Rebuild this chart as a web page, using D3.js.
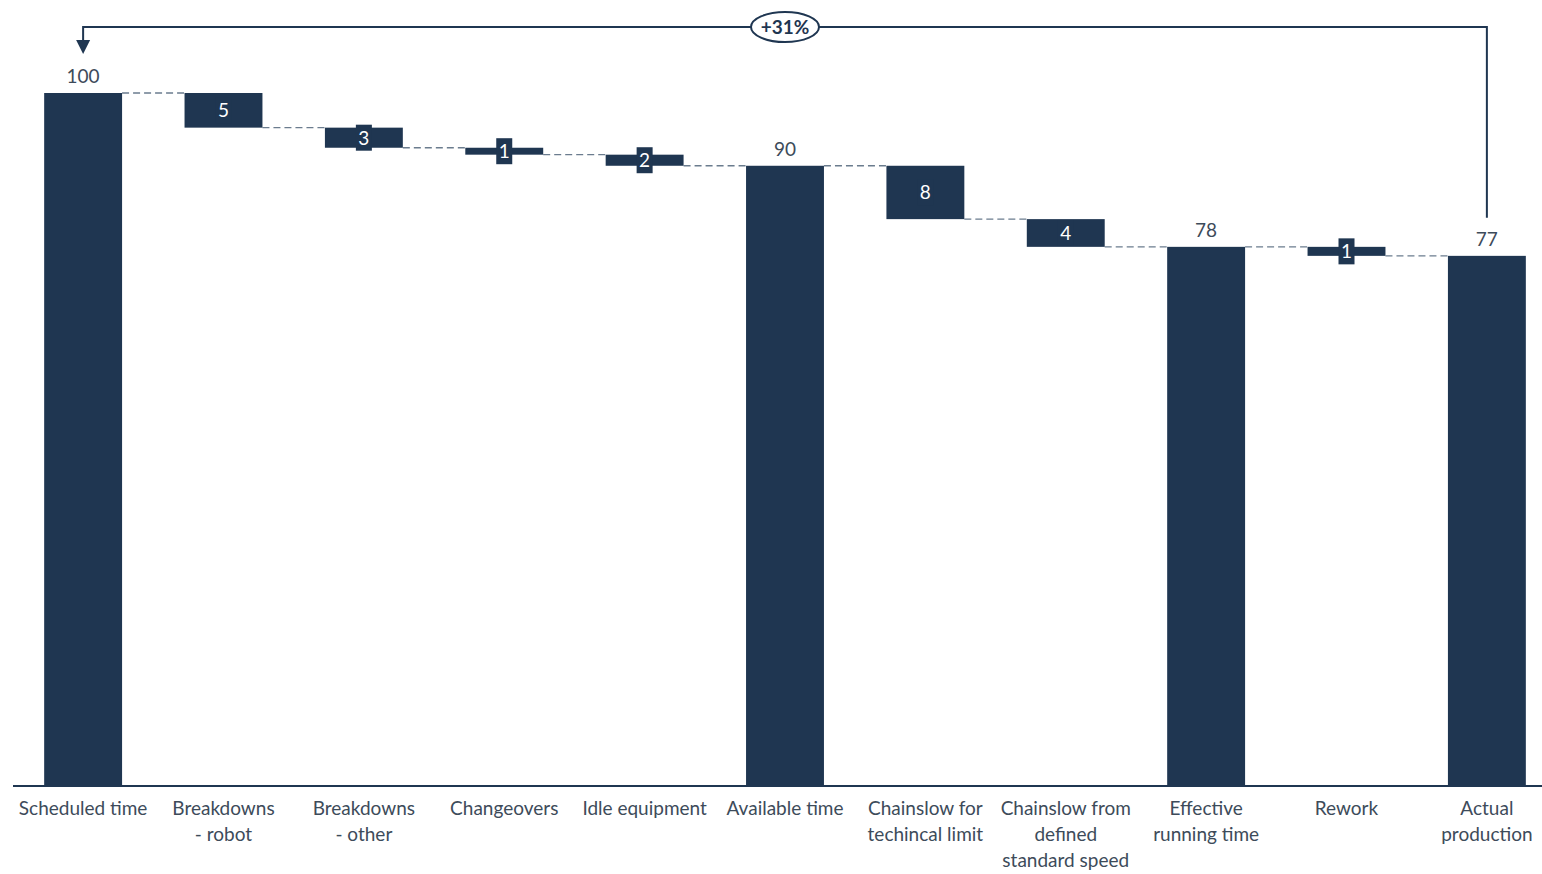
<!DOCTYPE html>
<html>
<head>
<meta charset="utf-8">
<script src="https://cdn.jsdelivr.net/npm/d3@7"></script>
<style>
  body { margin: 0; background: #fff; }
  text { font-family: Lato, "Open Sans", sans-serif; }
</style>
</head>
<body>
<div id="chart"></div>
<script>
const categories = ['Scheduled time', 'Breakdowns - robot', 'Breakdowns - other', 'Changeovers', 'Idle equipment',
    'Available time', 'Chainslow for techincal limit', 'Chainslow from defined standard speed',
    'Effective running time', 'Rework', 'Actual production'];
const labelLines = [
    ['Scheduled time'], ['Breakdowns', '- robot'], ['Breakdowns', '- other'], ['Changeovers'], ['Idle equipment'],
    ['Available time'], ['Chainslow for', 'techincal limit'], ['Chainslow from', 'defined', 'standard speed'],
    ['Effective', 'running time'], ['Rework'], ['Actual', 'production']
];
const values = [100, 5.0, 2.9, 1.0, 1.6, 89.5, 7.7, 4.0, 77.8, 1.3, 76.5];
const kinds = ['total', 'delta', 'delta', 'delta', 'delta', 'total', 'delta', 'delta', 'total', 'delta', 'total'];

const W = 1542, H = 874;
const barColor = '#1f3651';
const textColor = '#3d4b5a';

const svg = d3.select('#chart').append('svg')
    .attr('width', W)
    .attr('height', H);

const x = d3.scaleBand()
    .domain(categories)
    .range([13, 1557])
    .paddingInner(0.445)
    .paddingOuter(0.222);

const y = d3.scaleLinear()
    .domain([0, 100])
    .range([786, 93]);

// running totals -> start / end of each bar
let running = 0;
const bars = categories.map((c, i) => {
    let y0, y1;
    if (kinds[i] === 'total') {
        y0 = 0; y1 = values[i];
        running = values[i];
    } else {
        y1 = running; y0 = running - values[i];
        running = y0;
    }
    return { cat: c, i, y0, y1, kind: kinds[i], value: values[i], level: running };
});

// connectors
svg.append('g').selectAll('line')
    .data(bars.slice(0, -1))
    .join('line')
    .attr('x1', d => x(d.cat) + x.bandwidth())
    .attr('x2', d => x(categories[d.i + 1]))
    .attr('y1', d => y(d.level))
    .attr('y2', d => y(d.level))
    .attr('stroke', '#6b7c8e')
    .attr('stroke-width', 1.3)
    .attr('stroke-dasharray', '7,4');

svg.append('g').selectAll('rect')
    .data(bars)
    .join('rect')
    .attr('x', d => x(d.cat))
    .attr('width', x.bandwidth())
    .attr('y', d => y(d.y1))
    .attr('height', d => y(d.y0) - y(d.y1))
    .attr('fill', barColor);

// labels on delta bars (small dark box behind the number)
const deltas = bars.filter(d => d.kind === 'delta');
const dl = svg.append('g').selectAll('g')
    .data(deltas)
    .join('g')
    .attr('transform', d => `translate(${x(d.cat) + x.bandwidth() / 2},${(y(d.y0) + y(d.y1)) / 2})`);
dl.append('rect')
    .attr('x', -8).attr('y', -13)
    .attr('width', 16).attr('height', 26)
    .attr('fill', barColor);
dl.append('text')
    .attr('text-anchor', 'middle')
    .attr('dy', '0.36em')
    .attr('fill', '#fff')
    .attr('font-size', 19)
    .text(d => Math.round(d.value));

// labels above totals
svg.append('g').selectAll('text')
    .data(bars.filter(d => d.kind === 'total'))
    .join('text')
    .attr('x', d => x(d.cat) + x.bandwidth() / 2)
    .attr('y', d => y(d.y1) - 10)
    .attr('text-anchor', 'middle')
    .attr('fill', textColor)
    .attr('font-size', 19)
    .text(d => Math.round(d.value));

// baseline
svg.append('line')
    .attr('x1', 13).attr('x2', W)
    .attr('y1', y(0)).attr('y2', y(0))
    .attr('stroke', barColor)
    .attr('stroke-width', 2);

// category labels
const cl = svg.append('g').selectAll('text')
    .data(categories)
    .join('text')
    .attr('x', d => x(d) + x.bandwidth() / 2)
    .attr('y', 815)
    .attr('text-anchor', 'middle')
    .attr('fill', textColor)
    .attr('font-size', 19);
cl.each(function(d, i) {
    d3.select(this).selectAll('tspan')
        .data(labelLines[i])
        .join('tspan')
        .attr('x', x(d) + x.bandwidth() / 2)
        .attr('dy', (t, j) => j === 0 ? 0 : 26)
        .text(t => t);
});

// bracket from last bar back to first with % change
const first = bars[0], last = bars[bars.length - 1];
const xf = x(first.cat) + x.bandwidth() / 2;
const xl = x(last.cat) + x.bandwidth() / 2;
const topY = 27;
svg.append('path')
    .attr('d', `M${xl},${y(last.y1) - 38} V${topY} H${xf} V${y(first.y1) - 52}`)
    .attr('fill', 'none')
    .attr('stroke', barColor)
    .attr('stroke-width', 2);
svg.append('path')
    .attr('d', `M${xf - 7},${y(first.y1) - 53} L${xf + 7},${y(first.y1) - 53} L${xf},${y(first.y1) - 39} Z`)
    .attr('fill', barColor);

const pct = Math.round((first.value / last.value - 1) * 100);
const mid = x(categories[5]) + x.bandwidth() / 2;
svg.append('ellipse')
    .attr('cx', mid).attr('cy', topY)
    .attr('rx', 34).attr('ry', 15)
    .attr('fill', '#fff')
    .attr('stroke', barColor)
    .attr('stroke-width', 2);
svg.append('text')
    .attr('x', mid).attr('y', topY)
    .attr('dy', '0.36em')
    .attr('text-anchor', 'middle')
    .attr('font-weight', 'bold')
    .attr('font-size', 19)
    .attr('fill', barColor)
    .text(`+${pct}%`);
</script>
</body>
</html>
